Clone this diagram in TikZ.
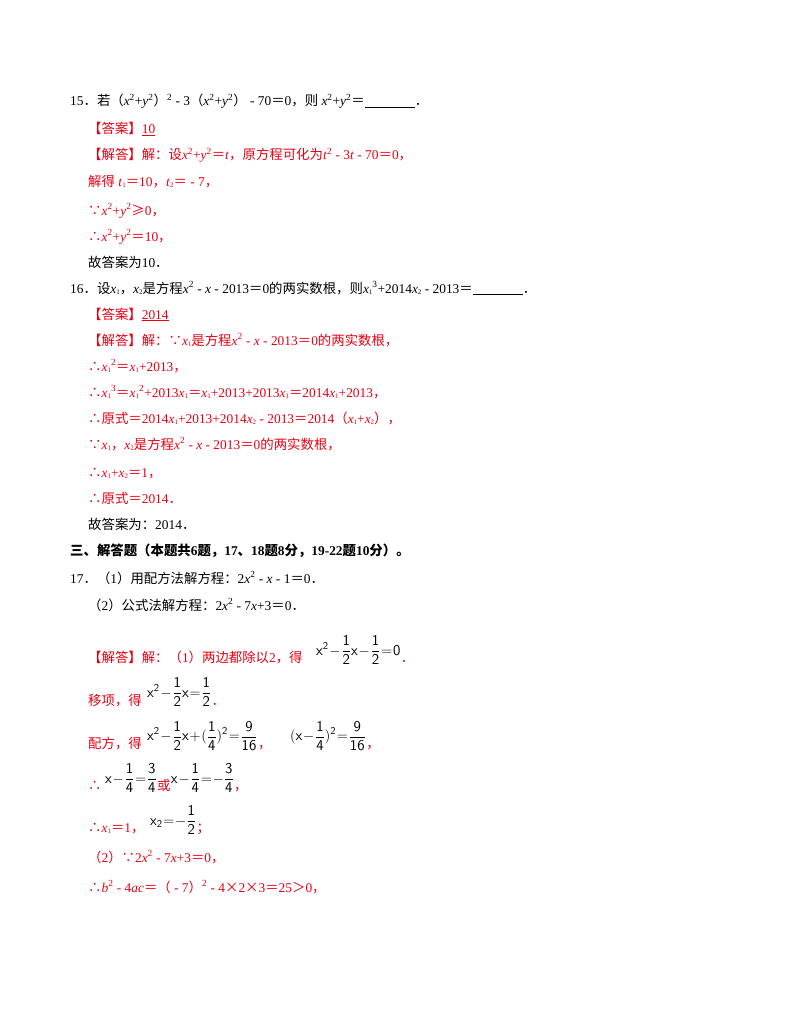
\documentclass[tikz,border=0pt]{standalone}
\usepackage{fontspec}
\setmainfont{Liberation Serif}
\newfontfamily\cjk{Noto Sans CJK SC}
\definecolor{ansred}{RGB}{230,0,18}
\newcommand\C[1]{{\cjk #1}}
\newcommand\I[1]{\textit{#1}}
\newcommand\sq{\textsuperscript{2}}
\newcommand\cb{\textsuperscript{3}}
\newcommand\ix[1]{\raisebox{-0.3ex}{\scriptsize #1}}
\newcommand\fm[1]{{\fontsize{15}{15}\selectfont\medmuskip=1mu\thickmuskip=1mu$\displaystyle\mathsf{#1}$}}
\tikzset{ln/.style={anchor=base west,inner sep=0pt,font=\fontsize{13.4}{15}\selectfont},
 rd/.style={ln,text=ansred},
 fml/.style={anchor=west,inner sep=0pt}}
\begin{document}
\begin{tikzpicture}[x=1pt,y=-1pt]
\useasboundingbox (0,0) rectangle (800,1035);
\node[ln] (l1) at (70,106) {15\C{．若（}\I{x}\sq+\I{y}\sq\C{）}\sq\ - 3\C{（}\I{x}\sq+\I{y}\sq\C{）} - 70\C{＝}0\C{，则} \I{x}\sq+\I{y}\sq\C{＝}\underline{\hspace{50pt}}\C{．}};
\node[rd] (l2) at (88,134) {\C{【答案】}\underline{10}};
\node[rd] (l3) at (88,160) {\C{【解答】解：设}\I{x}\sq+\I{y}\sq\C{＝}\I{t}\C{，原方程可化为}\I{t}\sq\ - 3\I{t} - 70\C{＝}0\C{，}};
\node[rd] (l4) at (88,186) {\C{解得} \I{t}\ix{1}\C{＝}10\C{，}\I{t}\ix{2}\C{＝} - 7\C{，}};
\node[rd] (l5) at (88,215) {\C{∵}\I{x}\sq+\I{y}\sq\C{≥}0\C{，}};
\node[rd] (l6) at (88,241) {\C{∴}\I{x}\sq+\I{y}\sq\C{＝}10\C{，}};
\node[ln] (l7) at (88,267) {\C{故答案为}10\C{．}};
\node[ln] (l8) at (70,293) {16\C{．设}\I{x}\ix{1}\C{，}\I{x}\ix{2}\C{是方程}\I{x}\sq\ - \I{x} - 2013\C{＝}0\C{的两实数根，则}\I{x}\ix{1}\cb+2014\I{x}\ix{2} - 2013\C{＝}\underline{\hspace{50pt}}\C{．}};
\node[rd] (l9) at (88,319) {\C{【答案】}\underline{2014}};
\node[rd] (l10) at (88,345) {\C{【解答】解：∵}\I{x}\ix{1}\C{是方程}\I{x}\sq\ - \I{x} - 2013\C{＝}0\C{的两实数根，}};
\node[rd] (l11) at (88,371) {\C{∴}\I{x}\ix{1}\sq\C{＝}\I{x}\ix{1}+2013\C{，}};
\node[rd] (l12) at (88,397) {\C{∴}\I{x}\ix{1}\cb\C{＝}\I{x}\ix{1}\sq+2013\I{x}\ix{1}\C{＝}\I{x}\ix{1}+2013+2013\I{x}\ix{1}\C{＝}2014\I{x}\ix{1}+2013\C{，}};
\node[rd] (l13) at (88,423) {\C{∴原式＝}2014\I{x}\ix{1}+2013+2014\I{x}\ix{2} - 2013\C{＝}2014\C{（}\I{x}\ix{1}+\I{x}\ix{2}\C{），}};
\node[rd] (l14) at (88,449) {\C{∵}\I{x}\ix{1}\C{，}\I{x}\ix{2}\C{是方程}\I{x}\sq\ - \I{x} - 2013\C{＝}0\C{的两实数根，}};
\node[rd] (l15) at (88,477) {\C{∴}\I{x}\ix{1}+\I{x}\ix{2}\C{＝}1\C{，}};
\node[rd] (l16) at (88,503) {\C{∴原式＝}2014\C{．}};
\node[ln] (l17) at (88,529) {\C{故答案为：}2014\C{．}};
\node[ln,font=\fontsize{13.4}{15}\selectfont\bfseries] (l18) at (70,555) {\C{\bfseries 三、解答题（本题共}6\C{\bfseries 题，}17\C{\bfseries 、}18\C{\bfseries 题}8\C{\bfseries 分，}19-22\C{\bfseries 题}10\C{\bfseries 分）。}};
\node[ln] (l19) at (70,583) {17\C{．（}1\C{）用配方法解方程：}2\I{x}\sq\ - \I{x} - 1\C{＝}0\C{．}};
\node[ln] (l20) at (88,610) {\C{（}2\C{）公式法解方程：}2\I{x}\sq\ - 7\I{x}+3\C{＝}0\C{．}};
% solution
\node[rd] (s1) at (88,662) {\C{【解答】解：（}1\C{）两边都除以}2\C{，得}};
\node[fml] (f1) at (316,650) {\fm{x^2-\frac12x-\frac12=0}};
\node[rd] (d1) at (f1.east |- 0,662) {\C{．}};
\node[rd] (s2) at (88,705) {\C{移项，得}};
\node[fml] (f2) at (147,692) {\fm{x^2-\frac12x=\frac12}};
\node[rd] (d2) at (f2.east |- 0,705) {\C{．}};
\node[rd] (s3) at (88,748) {\C{配方，得}};
\node[fml] (f3) at (147,736) {\fm{x^2-\frac12x+(\frac14)^2=\frac9{16}}};
\node[rd] (d3) at (f3.east |- 0,748) {\C{，}};
\node[fml] (f4) at (290,736) {\fm{(x-\frac14)^2=\frac9{16}}};
\node[rd] (d4) at (f4.east |- 0,748) {\C{，}};
\node[rd] (s4) at (88,790) {\C{∴}};
\node[fml] (f5) at (105,778) {\fm{x-\frac14=\frac34}};
\node[rd] (d5) at (f5.east |- 0,790) {\C{或}};
\node[fml] (f6) at (d5.east |- 0,778) {\fm{x-\frac14=-\frac34}};
\node[rd] (d6) at (f6.east |- 0,790) {\C{，}};
\node[rd] (s5) at (88,832) {\C{∴}\I{x}\ix{1}\C{＝}1\C{，}};
\node[fml] (f7) at (150,820) {\fm{x_2=-\frac12}};
\node[rd] (d7) at (f7.east |- 0,832) {\C{；}};
\node[rd] (s6) at (88,862) {\C{（}2\C{）∵}2\I{x}\sq\ - 7\I{x}+3\C{＝}0\C{，}};
\node[rd] (s7) at (88,892) {\C{∴}\I{b}\sq\ - 4\I{ac}\C{＝（} - 7\C{）}\sq\ - 4\C{×}2\C{×}3\C{＝}25\C{＞}0\C{，}};
\end{tikzpicture}
\end{document}
